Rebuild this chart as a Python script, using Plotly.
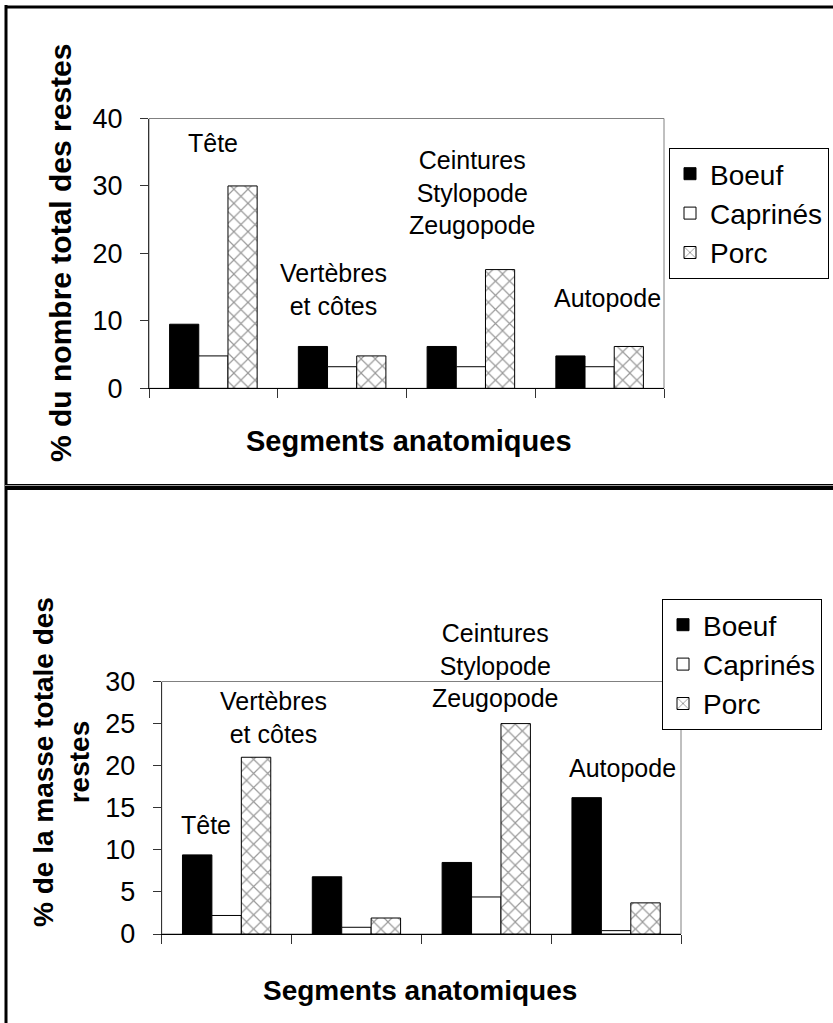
import plotly.graph_objects as go

W, H = 833, 1023

segments = ["Tête", "Vertèbres et côtes", "Ceintures Stylopode Zeugopode", "Autopode"]
seg_labels = ["Tête", "Vertèbres<br>et côtes", "Ceintures<br>Stylopode<br>Zeugopode", "Autopode"]
especes = ["Boeuf", "Caprinés", "Porc"]

# % du nombre total des restes (NR)
nr_boeuf = [9.5, 6.2, 6.2, 4.8]
nr_caprines = [4.8, 3.2, 3.2, 3.2]
nr_porc = [30.0, 4.8, 17.6, 6.2]

# % de la masse totale des restes (MR)
mr_boeuf = [9.4, 6.8, 8.5, 16.2]
mr_caprines = [2.2, 0.8, 4.4, 0.4]
mr_porc = [21.0, 1.9, 25.0, 3.7]

top_ticks = [0, 10, 20, 30, 40]
bottom_ticks = [0, 5, 10, 15, 20, 25, 30]

FONT = "Liberation Sans, Arial, sans-serif"


def px(x):
    return x / W


def py(y):
    return 1 - y / H


def bar_style(name):
    if name == "Boeuf":
        return dict(color="black", line=dict(color="black", width=1))
    if name == "Caprinés":
        return dict(color="white", line=dict(color="black", width=1))
    return dict(color="white", line=dict(color="black", width=1),
                pattern=dict(shape="x", fgcolor="#333333", bgcolor="white",
                             size=10, solidity=0.22))


fig = go.Figure()

for name, vals in zip(especes, [nr_boeuf, nr_caprines, nr_porc]):
    fig.add_trace(go.Bar(x=segments, y=vals, name=name, marker=bar_style(name),
                         xaxis="x", yaxis="y", legend="legend",
                         legendgroup="a" + name))

for name, vals in zip(especes, [mr_boeuf, mr_caprines, mr_porc]):
    fig.add_trace(go.Bar(x=segments, y=vals, name=name, marker=bar_style(name),
                         xaxis="x2", yaxis="y2", legend="legend2",
                         legendgroup="b" + name))

xax = dict(type="category", showline=True, linecolor="black", linewidth=1,
           ticks="outside", tickson="boundaries", ticklen=9, tickcolor="#333",
           showticklabels=False, showgrid=False, zeroline=False,
           automargin=False, fixedrange=True)
yax = dict(showline=True, linecolor="#333", linewidth=1, ticks="outside",
           ticklen=8, tickcolor="#333", showgrid=False, zeroline=False,
           automargin=False, ticklabelstandoff=12,
           tickfont=dict(size=27, color="black"))

fig.update_layout(
    xaxis=dict(xax, domain=[px(149), px(664)], anchor="y"),
    yaxis=dict(yax, domain=[py(388.3), py(118.5)], range=[0, 40],
               tickvals=top_ticks, anchor="x"),
    xaxis2=dict(xax, domain=[px(161.7), px(681)], anchor="y2"),
    yaxis2=dict(yax, domain=[py(934), py(681.5)], range=[0, 30],
                tickvals=bottom_ticks, anchor="x2"),
)

leg = dict(xanchor="left", yanchor="top", bordercolor="black", borderwidth=1,
           bgcolor="white", font=dict(size=28, color="black"),
           tracegroupgap=2, traceorder="normal", itemclick=False)
fig.update_layout(
    legend=dict(leg, x=px(669), y=py(148)),
    legend2=dict(leg, x=px(662), y=py(599)),
)

ann = []
# libellés des segments (x : indice de catégorie, y : fraction du domaine)
top_pos = [(0.0, 36.3 / 40), (0.93, 14.6 / 40), (2.01, 29.1 / 40), (3.06, 13.4 / 40)]
for lab, (x, y) in zip(seg_labels, top_pos):
    ann.append(dict(text=lab, x=x, y=y, xref="x", yref="y domain", showarrow=False,
                    xanchor="center", yanchor="middle", font=dict(size=25)))
bot_pos = [(-0.16, 13.0 / 30), (0.36, 25.7 / 30), (2.07, 31.9 / 30), (3.05, 19.7 / 30)]
for lab, (x, y) in zip(seg_labels, bot_pos):
    ann.append(dict(text=lab, x=x, y=y, xref="x2", yref="y2 domain", showarrow=False,
                    xanchor="center", yanchor="middle", font=dict(size=25)))

# titres des axes
titles = [
    ("<b>% du nombre total des restes</b>", 60, 253, -90, 30),
    ("<b>% de la masse totale des<br>restes</b>", 61, 762, -90, 28),
    ("<b>Segments anatomiques</b>", 409, 441, 0, 29),
    ("<b>Segments anatomiques</b>", 420, 990, 0, 28),
]
for txt, x, y, ang, size in titles:
    ann.append(dict(text=txt, x=px(x), y=py(y), xref="paper", yref="paper",
                    xanchor="center", yanchor="middle", textangle=ang,
                    showarrow=False, font=dict(size=size)))

shapes = [
    # cadres des zones de tracé (gris)
    dict(type="rect", xref="x domain", yref="y domain", x0=0, x1=1, y0=0, y1=1,
         line=dict(color="#808080", width=1), layer="below"),
    dict(type="rect", xref="x2 domain", yref="y2 domain", x0=0, x1=1, y0=0, y1=1,
         line=dict(color="#808080", width=1), layer="below"),
    # cadre extérieur
    dict(type="line", xref="paper", yref="paper", x0=px(5), x1=1, y0=py(7), y1=py(7),
         line=dict(color="black", width=3)),
    dict(type="line", xref="paper", yref="paper", x0=px(6), x1=px(6), y0=py(5), y1=0,
         line=dict(color="black", width=3)),
    # séparation double
    dict(type="line", xref="paper", yref="paper", x0=px(5), x1=1, y0=py(484.5), y1=py(484.5),
         line=dict(color="black", width=1)),
    dict(type="line", xref="paper", yref="paper", x0=px(5), x1=1, y0=py(485.5), y1=py(485.5),
         line=dict(color="#999999", width=1)),
    dict(type="line", xref="paper", yref="paper", x0=px(5), x1=1, y0=py(488), y1=py(488),
         line=dict(color="black", width=4)),
]

fig.update_layout(
    width=W, height=H,
    margin=dict(l=0, r=0, t=0, b=0, pad=0, autoexpand=False),
    paper_bgcolor="white", plot_bgcolor="white",
    font=dict(family=FONT, size=24, color="black"),
    barmode="group", bargap=0.32, bargroupgap=0,
    annotations=ann, shapes=shapes,
    hovermode=False,
)

# pas de marge de page autour du graphique
fig.write_html("out.html", config={"displayModeBar": False},
               post_script="document.body.style.margin='0';document.body.style.overflow='hidden';")
